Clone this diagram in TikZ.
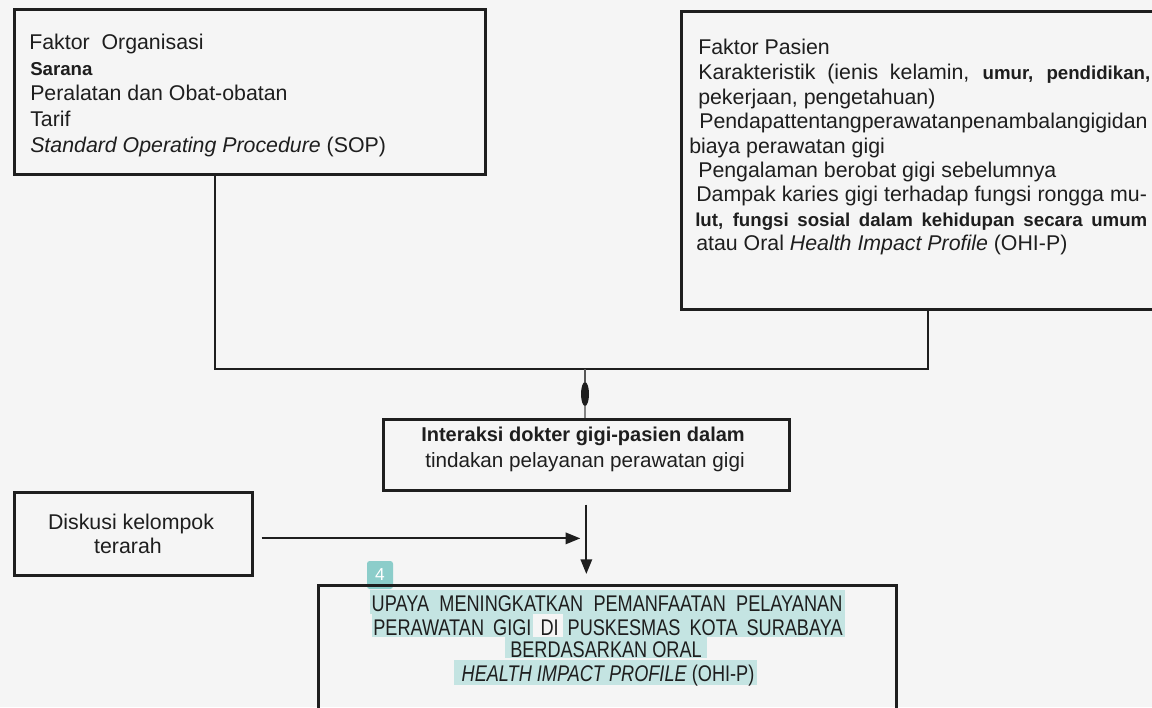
\documentclass[tikz,border=0pt]{standalone}
\usepackage{fontspec}
\setmainfont{Liberation Sans}
\newfontfamily\narrowfont[FakeStretch=0.8]{Liberation Sans}
\usetikzlibrary{shapes.geometric,arrows.meta}
\definecolor{bg}{RGB}{245,245,245}
\definecolor{ink}{RGB}{30,30,30}
\definecolor{hl}{RGB}{196,228,226}
\definecolor{badgec}{RGB}{140,205,202}
\begin{document}
\begin{tikzpicture}[x=0.75pt,y=-0.75pt,
  box/.style={draw=ink, line width=2pt, inner sep=0pt, anchor=north west},
  conn/.style={draw=ink, line width=1.6pt},
  arr/.style={draw=ink, line width=1.6pt, -{Triangle[length=11pt,width=8.5pt]}},
  txt/.style={inner sep=0pt, anchor=base west, text=ink, font=\fontsize{16}{19}\selectfont},
  ctxt/.style={txt, anchor=base},
  btxt/.style={ctxt, font=\narrowfont\fontsize{17}{20}\selectfont},
  hlbox/.style={fill=hl, draw=none}]
\useasboundingbox (0,0) rectangle (1152,707);
\clip (0,0) rectangle (1152,707);
\fill[bg] (0,0) rectangle (1152,707);

% highlight annotation behind the bottom text
\fill[hlbox] (370,590) rectangle (845,614);
\fill[hlbox] (372,614) rectangle (533,637);
\fill[hlbox] (563,614) rectangle (845,637);
\fill[hlbox] (505,637) rectangle (707,658);
\fill[hlbox] (454,660) rectangle (757,685);
\node[fill=badgec, rounded corners=2pt, minimum width=19.5pt, minimum height=21pt, inner sep=0pt, text=white, font=\fontsize{13}{15}\selectfont] (badge) at (380,575) {4};

% boxes
\node[box, minimum width=353.25pt, minimum height=123.75pt] (org) at (13,8) {};
\node[box, minimum width=375pt, minimum height=223.5pt] (pas) at (680,10) {};
\node[box, minimum width=304.5pt, minimum height=53.25pt] (inter) at (382,418) {};
\node[box, minimum width=178.5pt, minimum height=62.25pt] (disk) at (13,491) {};
\node[box, minimum width=433.5pt, minimum height=105pt] (bot) at (317,584) {};

% Faktor Organisasi
\node[txt] (o1) at (29,49) {Faktor\ \ Organisasi};
\node[txt, font=\bfseries\fontsize{14}{16}\selectfont] (o2) at (30,75) {Sarana};
\node[txt] (o3) at (30,100) {Peralatan\ dan Obat-obatan};
\node[txt] (o4) at (30,126) {Tarif};
\node[txt] (o5) at (30,152) {\textit{Standard Operating\ Procedure} (SOP)};

% Faktor Pasien
\node[txt] (p1) at (698,54) {Faktor\ Pasien};
\node[txt] (p2) at (698,79) {\makebox[339pt][s]{Karakteristik (ienis kelamin, {\bfseries\fontsize{14}{16}\selectfont umur,} {\bfseries\fontsize{14}{16}\selectfont pendidikan,}}};
\node[txt] (p3) at (698,104) {pekerjaan, pengetahuan)};
\node[txt] (p4) at (699,128) {Pendapattentangperawatanpenambalangigidan};
\node[txt] (p5) at (689,153) {biaya perawatan\ gigi};
\node[txt] (p6) at (698,177) {Pengalaman\ berobat gigi sebelumnya};
\node[txt] (p7) at (696,201) {\makebox[338pt][s]{Dampak karies gigi terhadap fungsi rongga mu-}};
\node[txt, font=\bfseries\fontsize{14}{17}\selectfont] (p8) at (695,226) {\makebox[339pt][s]{lut, fungsi sosial dalam kehidupan secara umum}};
\node[txt] (p9) at (696,250) {atau Oral \textit{Health\ Impact Profile}\ (OHI-P)};

% Interaksi
\node[ctxt, font=\bfseries\fontsize{15}{18}\selectfont] (i1) at (583,441) {Interaksi\ dokter gigi-pasien dalam};
\node[ctxt, font=\fontsize{15.5}{18}\selectfont] (i2) at (585,467) {tindakan\ pelayanan\ perawatan gigi};

% Diskusi
\node[ctxt] (d1) at (131,529) {Diskusi kelompok};
\node[ctxt] (d2) at (128,553) {terarah};

% Upaya
\node[btxt] (b1) at (607,611) {\makebox[353pt][s]{UPAYA MENINGKATKAN PEMANFAATAN PELAYANAN}};
\node[btxt] (b2) at (608,635) {\makebox[352pt][s]{PERAWATAN GIGI DI PUSKESMAS KOTA SURABAYA}};
\node[btxt] (b3) at (606,657) {BERDASARKAN\ ORAL};
\node[btxt] (b4) at (608,681) {\textit{HEALTH IMPACT PROFILE}\ (OHI-P)};

% connectors
\coordinate (jl) at (215,369);
\coordinate (jr) at (928,369);
\coordinate (jm) at (585,369);
\draw[conn] (org.south -| jl) -- (jl) -- (jr) -- (pas.south -| jr);
\node[ellipse, fill=ink, draw=none, inner sep=0pt, minimum width=6pt, minimum height=18pt] (dot) at (585,394) {};
\draw[draw=ink!75, line width=1pt] (jm) -- (dot.north);
\draw[draw=ink!55, line width=1pt] (dot.south) -- (inter.north -| dot.south);
\draw[arr, shorten >=7.5pt] ([yshift=-9.75pt]inter.south) -- (bot.north -| inter.south);
\draw[arr, shorten >=4.5pt] ([xshift=6pt,yshift=-3.4pt]disk.east) -- ([yshift=-3.4pt]disk.east -| inter.south);
\end{tikzpicture}
\end{document}
